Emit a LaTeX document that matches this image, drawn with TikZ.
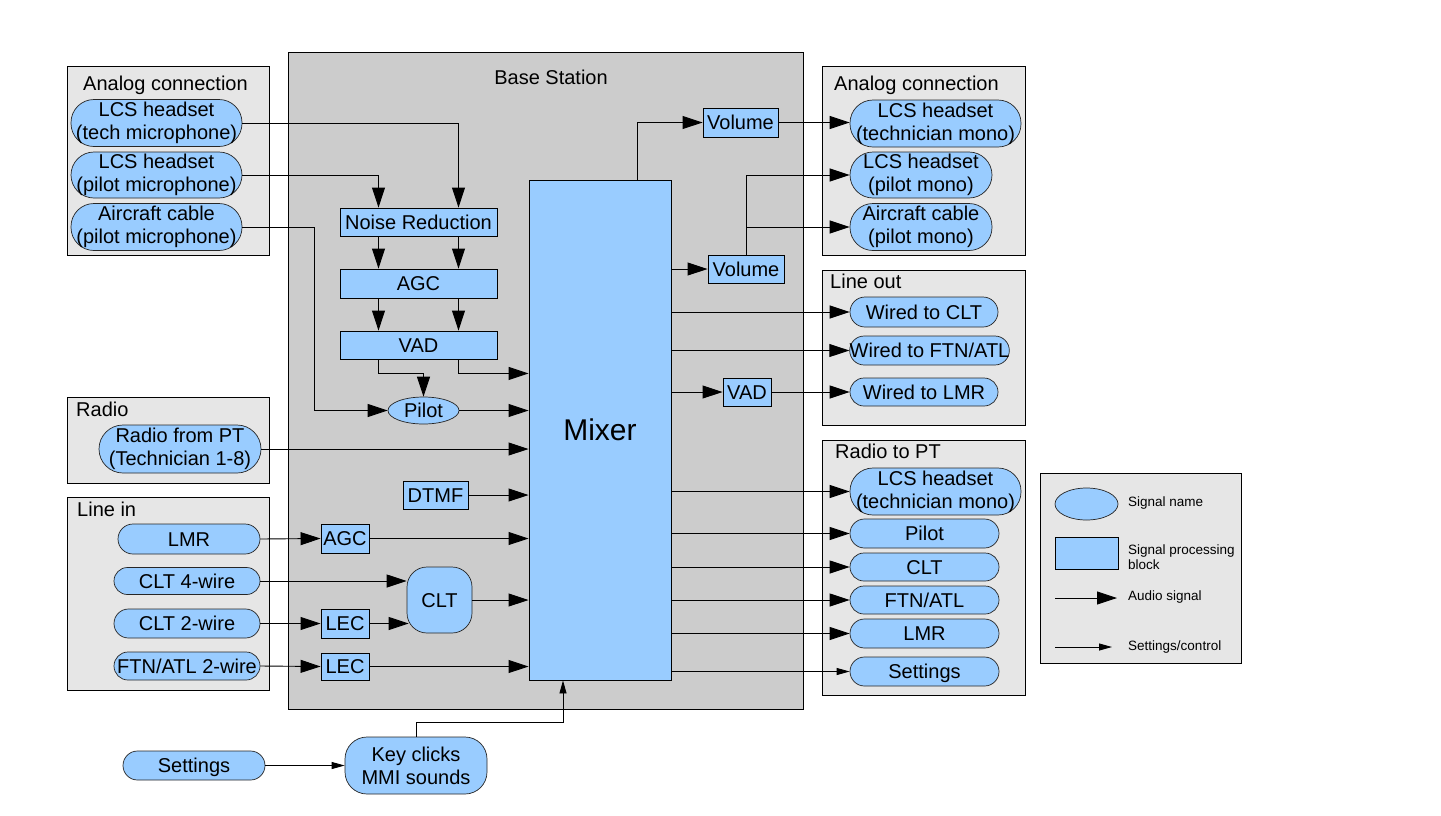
\documentclass[tikz,border=0pt]{standalone}
\usepackage{fontspec}
\setmainfont{Liberation Sans}
\usetikzlibrary{arrows.meta,shapes.geometric,calc}
\definecolor{sigblue}{HTML}{99CCFF}
\definecolor{basegray}{HTML}{CCCCCC}
\definecolor{panelgray}{HTML}{E6E6E6}
\begin{document}
\begin{tikzpicture}[x=1pt,y=-1pt,font=\fontsize{20}{23}\selectfont,
  panel/.style={draw=black,fill=panelgray,line width=0.9pt},
  basebox/.style={draw=black,fill=basegray,line width=0.9pt},
  one/.style={text height=14.4pt,text depth=0pt},
  title/.style={one,anchor=west,inner sep=0pt},
  wh/.style 2 args={minimum width=#1pt,minimum height=#2pt},
  sig/.style={draw=black!85,fill=sigblue,rounded corners=#1,inner sep=0pt,align=center,line width=0.7pt},
  sigel/.style={ellipse,draw=black!85,fill=sigblue,inner sep=0pt,line width=0.7pt},
  blk/.style={draw=black,fill=sigblue,inner sep=0pt,line width=0.9pt},
  aud/.style={-{Triangle[length=20pt,width=13pt]},line width=0.9pt},
  ctl/.style={-{Triangle[length=13pt,width=7pt]},line width=0.9pt},
  legtext/.style={font=\fontsize{13.5}{15}\selectfont,inner sep=0pt,align=left}
]
\fill[white] (0,0) rectangle (1441,815);
\useasboundingbox (0,0) rectangle (1441,815);

% ---------- background boxes ----------
\draw[basebox] (288,52) rectangle (803,709);
\draw[panel] (67,66) rectangle (269,255);
\draw[panel] (67,397) rectangle (269,483);
\draw[panel] (67,497) rectangle (269,690);
\draw[panel] (822,66) rectangle (1025,255);
\draw[panel] (822,270) rectangle (1025,425);
\draw[panel] (822,440) rectangle (1025,695);
\draw[panel] (1040,473) rectangle (1241,663);

% ---------- titles ----------
\node[one,inner sep=0pt] (tbase) at (551,77) {Base Station};
\node[title] (tla) at (83,83) {Analog connection};
\node[title] (tradio) at (76,409.5) {Radio};
\node[title] (tlin) at (77,509.5) {Line in};
\node[title] (tra) at (834,83) {Analog connection};
\node[title] (tlout) at (830,281.5) {Line out};
\node[title] (trpt) at (835,451.5) {Radio to PT};

% ---------- left inputs ----------
\node[sig=23pt,wh={171}{47}] (lcs1) at (156.5,123) {LCS headset\\(tech microphone)};
\node[sig=23pt,wh={171}{46}] (lcs2) at (156.5,175) {LCS headset\\(pilot microphone)};
\node[sig=23pt,wh={171}{47}] (air) at (156.5,227) {Aircraft cable\\(pilot microphone)};
\node[sig=24pt,wh={162}{48}] (radio) at (180,449) {Radio from PT\\(Technician 1-8)};
\node[sig=15pt,wh={142}{30},one] (lmr) at (189,539) {LMR};
\node[sig=13.5pt,wh={146}{27},one] (clt4) at (187,581) {CLT 4-wire};
\node[sig=14.5pt,wh={146}{29},one] (clt2) at (187,623.5) {CLT 2-wire};
\node[sig=14pt,wh={146}{28},one] (ftn) at (187,666) {FTN/ATL 2-wire};
\node[sig=14.5pt,wh={142}{29},one] (sets) at (194,765.5) {Settings};

% ---------- base station blocks ----------
\node[blk,wh={157}{28},one] (nr) at (418.5,222) {Noise Reduction};
\node[blk,wh={157}{29},one] (agc) at (418.5,283.5) {AGC};
\node[blk,wh={157}{28},one] (vad) at (418.5,345) {VAD};
\node[sigel,wh={71}{27},one] (pilot) at (423.5,410.5) {Pilot};
\node[blk,wh={142}{500},font=\fontsize{30}{36}\selectfont] (mixer) at (600,430) {Mixer};
\node[blk,wh={65}{28},one] (dtmf) at (435.5,495) {DTMF};
\node[blk,wh={48}{29},one] (agc2) at (345,538.5) {AGC};
\node[blk,wh={48}{29},one] (lec1) at (345,623.5) {LEC};
\node[blk,wh={48}{27},one] (lec2) at (345,666.5) {LEC};
\node[sig=20pt,wh={65}{66},one] (clt) at (439.5,600) {CLT};
\node[sig=22pt,wh={142}{57}] (keys) at (416,765.5) {Key clicks\\MMI sounds};
\node[blk,wh={75}{29},one] (vol1) at (740.5,122.5) {Volume};
\node[blk,wh={76}{28},one] (vol2) at (746,269) {Volume};
\node[blk,wh={48}{28},one] (vad2) at (747,392) {VAD};

% ---------- right outputs ----------
\node[sig=23pt,wh={171}{47}] (rlcs1) at (935.5,123.5) {LCS headset\\(technician mono)};
\node[sig=23pt,wh={142}{46}] (rlcs2) at (921,175) {LCS headset\\(pilot mono)};
\node[sig=23pt,wh={142}{47}] (rair) at (921,227) {Aircraft cable\\(pilot mono)};
\node[sig=15pt,wh={148}{30},one] (wclt) at (924,312) {Wired to CLT};
\node[sig=14.5pt,wh={159}{29},one] (wftn) at (929.5,350.5) {Wired to FTN/ATL};
\node[sig=14pt,wh={148}{28},one] (wlmr) at (924,392) {Wired to LMR};
\node[sig=23pt,wh={171}{47}] (plcs) at (935.5,491.5) {LCS headset\\(technician mono)};
\node[sig=14.5pt,wh={149}{29},one] (ppil) at (924.5,533.5) {Pilot};
\node[sig=14pt,wh={149}{28},one] (pclt) at (924.5,567) {CLT};
\node[sig=14pt,wh={149}{28},one] (pftn) at (924.5,600) {FTN/ATL};
\node[sig=14.5pt,wh={149}{29},one] (plmr) at (924.5,633.5) {LMR};
\node[sig=14.5pt,wh={149}{29},one] (pset) at (924.5,671.5) {Settings};

% ---------- legend ----------
\node[sigel,wh={63}{32}] (lgsig) at (1086.5,504) {};
\node[blk,wh={63}{32}] (lgblk) at (1086.5,553) {};
\node[legtext,anchor=west,text height=9.7pt,text depth=0pt] (lgt1) at (1128,502) {Signal name};
\node[legtext,anchor=north west] (lgt2) at (1128,544.5) {Signal processing\\block};
\node[legtext,anchor=west,text height=9.7pt,text depth=0pt] (lgt3) at (1128,595.5) {Audio signal};
\node[legtext,anchor=west,text height=9.7pt,text depth=0pt] (lgt4) at (1128,645.5) {Settings/control};
\coordinate (la1) at (1055,598);
\coordinate (la2) at (1117,598);
\coordinate (lc1) at (1055,647);
\coordinate (lc2) at (1112,647);
\draw[aud] (la1) -- (la2);
\draw[ctl] (lc1) -- (lc2);

% ---------- connectors: inputs ----------
\draw[aud] (lcs1.east) -| ([xshift=40pt]nr.north);
\draw[aud] (lcs2.east) -| ([xshift=-40pt]nr.north);
\coordinate (airturn) at (314,410.5);
\draw[aud] (air.east) -| (airturn) -- (pilot.west);
\draw[aud] ([xshift=-40pt]nr.south) -- ([xshift=-40pt]agc.north);
\draw[aud] ([xshift=40pt]nr.south) -- ([xshift=40pt]agc.north);
\draw[aud] ([xshift=-40pt]agc.south) -- ([xshift=-40pt]vad.north);
\draw[aud] ([xshift=40pt]agc.south) -- ([xshift=40pt]vad.north);
\draw[aud] ([xshift=-40pt]vad.south) -- ++(0,14) -| (pilot.north);
\draw[aud] ([xshift=40pt]vad.south) -- ++(0,14) coordinate (v1) -- (v1 -| mixer.west);
\draw[aud] (pilot.east) -- (pilot.east -| mixer.west);
\draw[aud] (radio.east) -- (radio.east -| mixer.west);
\draw[aud] (dtmf.east) -- (dtmf.east -| mixer.west);
\draw[aud] (lmr.east) -- (agc2.west);
\draw[aud] (agc2.east) -- (agc2.east -| mixer.west);
\draw[aud] (clt4.east) -- (clt4.east -| clt.west);
\draw[aud] (clt2.east) -- (lec1.west);
\draw[aud] (lec1.east) -- ([xshift=2pt]lec1.east -| clt.west);
\draw[aud] (clt.east) -- (clt.east -| mixer.west);
\draw[aud] (ftn.east) -- (lec2.west);
\draw[aud] (lec2.east) -- (lec2.east -| mixer.west);
\draw[ctl] (sets.east) -- (keys.west);
\draw[ctl] (keys.north) -- ++(0,-14) coordinate (k1) -| ([xshift=-37pt]mixer.south);

% ---------- connectors: outputs ----------
\draw[aud] ([xshift=37pt]mixer.north) |- (vol1.west);
\draw[aud] (vol1.east) -- (vol1.east -| rlcs1.west);
\draw[aud] (mixer.east |- vol2.west) -- (vol2.west);
\draw[aud] (vol2.north) |- (rlcs2.west);
\draw[aud] (vol2.north |- rair.west) -- (rair.west);
\draw[aud] (mixer.east |- wclt.west) -- (wclt.west);
\draw[aud] (mixer.east |- wftn.west) -- (wftn.west);
\draw[aud] (mixer.east |- vad2.west) -- (vad2.west);
\draw[aud] (vad2.east) -- (wlmr.west);
\draw[aud] (mixer.east |- plcs.west) -- (plcs.west);
\draw[aud] (mixer.east |- ppil.west) -- (ppil.west);
\draw[aud] (mixer.east |- pclt.west) -- (pclt.west);
\draw[aud] (mixer.east |- pftn.west) -- (pftn.west);
\draw[aud] (mixer.east |- plmr.west) -- (plmr.west);
\draw[ctl] (mixer.east |- pset.west) -- (pset.west);
\end{tikzpicture}
\end{document}
